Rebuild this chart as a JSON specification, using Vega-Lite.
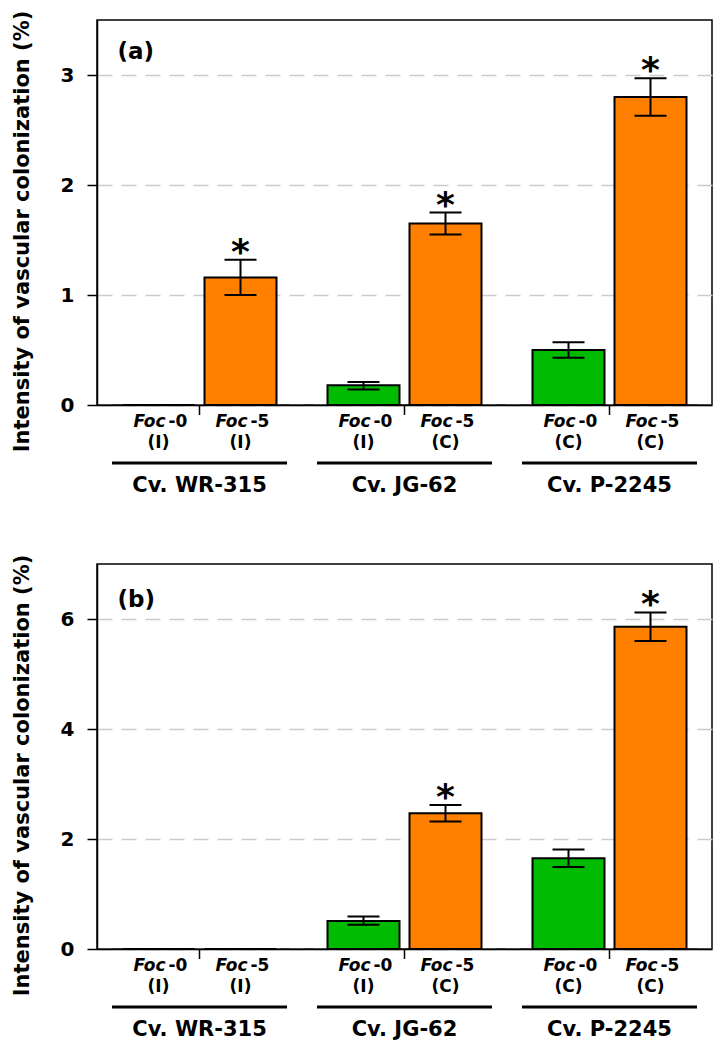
{
  "$schema": "https://vega.github.io/schema/vega-lite/v6.json",
  "background": "white",
  "padding": {"top": 9, "left": 10, "right": 5, "bottom": 3},
  "spacing": 57,
  "datasets": {
    "a": [
      {"cultivar": "Cv. WR-315", "foc": "Foc-0", "suffix": "-0", "host": "(I)", "mean": 0, "lo": null, "hi": null, "sig": ""},
      {"cultivar": "Cv. WR-315", "foc": "Foc-5", "suffix": "-5", "host": "(I)", "mean": 1.16, "lo": 1.0, "hi": 1.32, "sig": "*"},
      {"cultivar": "Cv. JG-62", "foc": "Foc-0", "suffix": "-0", "host": "(I)", "mean": 0.18, "lo": 0.14, "hi": 0.21, "sig": ""},
      {"cultivar": "Cv. JG-62", "foc": "Foc-5", "suffix": "-5", "host": "(C)", "mean": 1.65, "lo": 1.55, "hi": 1.75, "sig": "*"},
      {"cultivar": "Cv. P-2245", "foc": "Foc-0", "suffix": "-0", "host": "(C)", "mean": 0.5, "lo": 0.43, "hi": 0.57, "sig": ""},
      {"cultivar": "Cv. P-2245", "foc": "Foc-5", "suffix": "-5", "host": "(C)", "mean": 2.8, "lo": 2.63, "hi": 2.97, "sig": "*"}
    ],
    "b": [
      {"cultivar": "Cv. WR-315", "foc": "Foc-0", "suffix": "-0", "host": "(I)", "mean": 0, "lo": null, "hi": null, "sig": ""},
      {"cultivar": "Cv. WR-315", "foc": "Foc-5", "suffix": "-5", "host": "(I)", "mean": 0, "lo": null, "hi": null, "sig": ""},
      {"cultivar": "Cv. JG-62", "foc": "Foc-0", "suffix": "-0", "host": "(I)", "mean": 0.51, "lo": 0.44, "hi": 0.59, "sig": ""},
      {"cultivar": "Cv. JG-62", "foc": "Foc-5", "suffix": "-5", "host": "(C)", "mean": 2.47, "lo": 2.32, "hi": 2.62, "sig": "*"},
      {"cultivar": "Cv. P-2245", "foc": "Foc-0", "suffix": "-0", "host": "(C)", "mean": 1.65, "lo": 1.49, "hi": 1.81, "sig": ""},
      {"cultivar": "Cv. P-2245", "foc": "Foc-5", "suffix": "-5", "host": "(C)", "mean": 5.86, "lo": 5.6, "hi": 6.12, "sig": "*"}
    ],
    "groups": [
      {"cultivar": "Cv. WR-315"},
      {"cultivar": "Cv. JG-62"},
      {"cultivar": "Cv. P-2245"}
    ]
  },
  "vconcat": [
    {
      "width": 615,
      "height": 385,
      "layer": [
        {
          "data": {"name": "a"},
          "mark": {"type": "bar", "stroke": "black", "strokeWidth": 2},
          "encoding": {
            "x": {"field": "cultivar", "type": "nominal",
              "scale": {"domain": ["Cv. WR-315", "Cv. JG-62", "Cv. P-2245"], "paddingInner": 0, "paddingOuter": 0},
              "axis": {"title": null, "labelAngle": 0}},
            "xOffset": {"field": "foc", "type": "nominal",
              "scale": {"domain": ["Foc-0", "Foc-5"], "paddingInner": 0.122, "paddingOuter": 0.311}},
            "y": {"field": "mean", "type": "quantitative",
              "scale": {"domain": [0, 3.5], "nice": false},
              "axis": {"title": "Intensity of vascular colonization (%)", "values": [0, 1, 2, 3], "format": "d"}},
            "color": {"field": "foc", "type": "nominal",
              "scale": {"domain": ["Foc-0", "Foc-5"], "range": ["#00bb00", "#ff8000"]}, "legend": null}
          }
        },
        {
          "data": {"name": "a"},
          "mark": {"type": "rule", "strokeWidth": 2, "color": "black"},
          "encoding": {
            "x": {"field": "cultivar", "type": "nominal"},
            "xOffset": {"field": "foc", "type": "nominal"},
            "y": {"field": "lo", "type": "quantitative"},
            "y2": {"field": "hi"}
          }
        },
        {
          "data": {"name": "a"},
          "mark": {"type": "tick", "size": 32, "thickness": 2, "color": "black", "opacity": 1},
          "encoding": {
            "x": {"field": "cultivar", "type": "nominal"},
            "xOffset": {"field": "foc", "type": "nominal"},
            "y": {"field": "hi", "type": "quantitative"}
          }
        },
        {
          "data": {"name": "a"},
          "mark": {"type": "tick", "size": 32, "thickness": 2, "color": "black", "opacity": 1},
          "encoding": {
            "x": {"field": "cultivar", "type": "nominal"},
            "xOffset": {"field": "foc", "type": "nominal"},
            "y": {"field": "lo", "type": "quantitative"}
          }
        },
        {
          "data": {"name": "a"},
          "mark": {"type": "text", "fontSize": 36, "fontWeight": "bold", "baseline": "alphabetic", "dy": 4, "color": "black"},
          "encoding": {
            "x": {"field": "cultivar", "type": "nominal"},
            "xOffset": {"field": "foc", "type": "nominal"},
            "y": {"field": "hi", "type": "quantitative"},
            "text": {"field": "sig"}
          }
        },
        {
          "data": {"name": "a"},
          "mark": {"type": "text", "fontSize": 17, "fontWeight": "bold", "fontStyle": "italic", "align": "right", "baseline": "middle", "dx": 7, "dy": 17, "color": "black"},
          "encoding": {
            "x": {"field": "cultivar", "type": "nominal"},
            "xOffset": {"field": "foc", "type": "nominal"},
            "y": {"datum": 0, "type": "quantitative"},
            "text": {"value": "Foc"}
          }
        },
        {
          "data": {"name": "a"},
          "mark": {"type": "text", "fontSize": 17, "fontWeight": "bold", "align": "left", "baseline": "middle", "dx": 10, "dy": 17, "color": "black"},
          "encoding": {
            "x": {"field": "cultivar", "type": "nominal"},
            "xOffset": {"field": "foc", "type": "nominal"},
            "y": {"datum": 0, "type": "quantitative"},
            "text": {"field": "suffix"}
          }
        },
        {
          "data": {"name": "a"},
          "mark": {"type": "text", "fontSize": 17, "fontWeight": "bold", "align": "center", "baseline": "middle", "dy": 38, "color": "black"},
          "encoding": {
            "x": {"field": "cultivar", "type": "nominal"},
            "xOffset": {"field": "foc", "type": "nominal"},
            "y": {"datum": 0, "type": "quantitative"},
            "text": {"field": "host"}
          }
        },
        {
          "data": {"name": "groups"},
          "mark": {"type": "tick", "orient": "vertical", "size": 10, "thickness": 1.5, "yOffset": 5, "color": "black", "opacity": 1},
          "encoding": {
            "x": {"field": "cultivar", "type": "nominal"},
            "y": {"datum": 0, "type": "quantitative"}
          }
        },
        {
          "data": {"name": "groups"},
          "mark": {"type": "tick", "orient": "horizontal", "size": 175, "thickness": 3, "yOffset": 58, "color": "black", "opacity": 1},
          "encoding": {
            "x": {"field": "cultivar", "type": "nominal"},
            "y": {"datum": 0, "type": "quantitative"}
          }
        },
        {
          "data": {"values": [{"tag": "(a)", "cultivar": "Cv. WR-315"}]},
          "mark": {"type": "text", "fontSize": 23, "fontWeight": "bold", "align": "left", "baseline": "middle", "dx": -82, "dy": 32, "color": "black"},
          "encoding": {
            "x": {"field": "cultivar", "type": "nominal"},
            "y": {"datum": 3.5, "type": "quantitative"},
            "text": {"field": "tag"}
          }
        }
      ]
    },
    {
      "width": 615,
      "height": 385,
      "layer": [
        {
          "data": {"name": "b"},
          "mark": {"type": "bar", "stroke": "black", "strokeWidth": 2},
          "encoding": {
            "x": {"field": "cultivar", "type": "nominal",
              "scale": {"domain": ["Cv. WR-315", "Cv. JG-62", "Cv. P-2245"], "paddingInner": 0, "paddingOuter": 0},
              "axis": {"title": null, "labelAngle": 0}},
            "xOffset": {"field": "foc", "type": "nominal",
              "scale": {"domain": ["Foc-0", "Foc-5"], "paddingInner": 0.122, "paddingOuter": 0.311}},
            "y": {"field": "mean", "type": "quantitative",
              "scale": {"domain": [0, 7], "nice": false},
              "axis": {"title": "Intensity of vascular colonization (%)", "values": [0, 2, 4, 6], "format": "d"}},
            "color": {"field": "foc", "type": "nominal",
              "scale": {"domain": ["Foc-0", "Foc-5"], "range": ["#00bb00", "#ff8000"]}, "legend": null}
          }
        },
        {
          "data": {"name": "b"},
          "mark": {"type": "rule", "strokeWidth": 2, "color": "black"},
          "encoding": {
            "x": {"field": "cultivar", "type": "nominal"},
            "xOffset": {"field": "foc", "type": "nominal"},
            "y": {"field": "lo", "type": "quantitative"},
            "y2": {"field": "hi"}
          }
        },
        {
          "data": {"name": "b"},
          "mark": {"type": "tick", "size": 32, "thickness": 2, "color": "black", "opacity": 1},
          "encoding": {
            "x": {"field": "cultivar", "type": "nominal"},
            "xOffset": {"field": "foc", "type": "nominal"},
            "y": {"field": "hi", "type": "quantitative"}
          }
        },
        {
          "data": {"name": "b"},
          "mark": {"type": "tick", "size": 32, "thickness": 2, "color": "black", "opacity": 1},
          "encoding": {
            "x": {"field": "cultivar", "type": "nominal"},
            "xOffset": {"field": "foc", "type": "nominal"},
            "y": {"field": "lo", "type": "quantitative"}
          }
        },
        {
          "data": {"name": "b"},
          "mark": {"type": "text", "fontSize": 36, "fontWeight": "bold", "baseline": "alphabetic", "dy": 4, "color": "black"},
          "encoding": {
            "x": {"field": "cultivar", "type": "nominal"},
            "xOffset": {"field": "foc", "type": "nominal"},
            "y": {"field": "hi", "type": "quantitative"},
            "text": {"field": "sig"}
          }
        },
        {
          "data": {"name": "b"},
          "mark": {"type": "text", "fontSize": 17, "fontWeight": "bold", "fontStyle": "italic", "align": "right", "baseline": "middle", "dx": 7, "dy": 17, "color": "black"},
          "encoding": {
            "x": {"field": "cultivar", "type": "nominal"},
            "xOffset": {"field": "foc", "type": "nominal"},
            "y": {"datum": 0, "type": "quantitative"},
            "text": {"value": "Foc"}
          }
        },
        {
          "data": {"name": "b"},
          "mark": {"type": "text", "fontSize": 17, "fontWeight": "bold", "align": "left", "baseline": "middle", "dx": 10, "dy": 17, "color": "black"},
          "encoding": {
            "x": {"field": "cultivar", "type": "nominal"},
            "xOffset": {"field": "foc", "type": "nominal"},
            "y": {"datum": 0, "type": "quantitative"},
            "text": {"field": "suffix"}
          }
        },
        {
          "data": {"name": "b"},
          "mark": {"type": "text", "fontSize": 17, "fontWeight": "bold", "align": "center", "baseline": "middle", "dy": 38, "color": "black"},
          "encoding": {
            "x": {"field": "cultivar", "type": "nominal"},
            "xOffset": {"field": "foc", "type": "nominal"},
            "y": {"datum": 0, "type": "quantitative"},
            "text": {"field": "host"}
          }
        },
        {
          "data": {"name": "groups"},
          "mark": {"type": "tick", "orient": "vertical", "size": 10, "thickness": 1.5, "yOffset": 5, "color": "black", "opacity": 1},
          "encoding": {
            "x": {"field": "cultivar", "type": "nominal"},
            "y": {"datum": 0, "type": "quantitative"}
          }
        },
        {
          "data": {"name": "groups"},
          "mark": {"type": "tick", "orient": "horizontal", "size": 175, "thickness": 3, "yOffset": 58, "color": "black", "opacity": 1},
          "encoding": {
            "x": {"field": "cultivar", "type": "nominal"},
            "y": {"datum": 0, "type": "quantitative"}
          }
        },
        {
          "data": {"values": [{"tag": "(b)", "cultivar": "Cv. WR-315"}]},
          "mark": {"type": "text", "fontSize": 23, "fontWeight": "bold", "align": "left", "baseline": "middle", "dx": -82, "dy": 36, "color": "black"},
          "encoding": {
            "x": {"field": "cultivar", "type": "nominal"},
            "y": {"datum": 7, "type": "quantitative"},
            "text": {"field": "tag"}
          }
        }
      ]
    }
  ],
  "config": {
    "font": "DejaVu Sans",
    "view": {"stroke": "black", "strokeWidth": 1.5},
    "axis": {
      "domainColor": "black", "domainWidth": 1.5,
      "labelColor": "black", "labelFont": "DejaVu Sans", "labelFontWeight": "bold",
      "titleFont": "DejaVu Sans", "titleFontWeight": "bold", "titleColor": "black"
    },
    "axisY": {
      "grid": true, "gridColor": "#cccccc", "gridDash": [15, 9], "gridWidth": 1.5,
      "tickColor": "black", "tickSize": 10, "tickWidth": 1.5,
      "labelFontSize": 20, "labelPadding": 13,
      "titleFontSize": 21, "titlePadding": 28, "titleY": 211
    },
    "axisX": {
      "grid": false, "ticks": false, "labelFontSize": 21, "labelPadding": 69
    }
  }
}
